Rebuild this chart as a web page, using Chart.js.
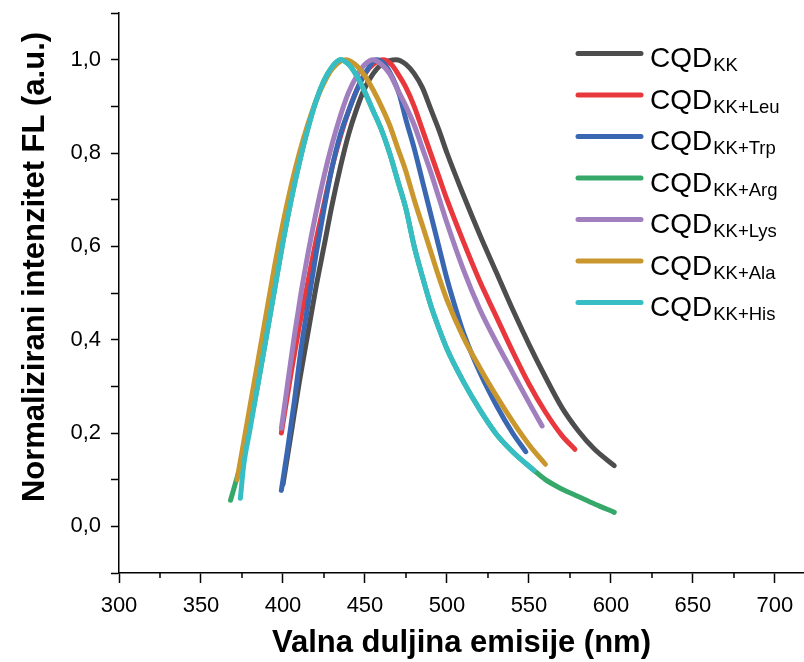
<!DOCTYPE html>
<html><head><meta charset="utf-8">
<script src="https://cdn.jsdelivr.net/npm/chart.js@4.4.0/dist/chart.umd.min.js"></script>
<style>html,body{margin:0;padding:0;background:#fff;}</style>
</head><body>
<canvas id="c" width="804" height="662"></canvas>
<script>
// ---- data ----
const seriesSubs = ['KK', 'KK+Leu', 'KK+Trp', 'KK+Arg', 'KK+Lys', 'KK+Ala', 'KK+His'];
const seriesColors = ['#4d4d4d', '#e8383d', '#3a67b2', '#35a86a', '#a17fbf', '#c9972d', '#36bec4'];

const kkX = [400,405,410,415,420,425,430,435,440,445,450,455,460,465,469,475,480,485,490,495,500,510,520,530,540,550,560,570,580,590,602];
const kkY = [0.09,0.2,0.31,0.41,0.51,0.6,0.69,0.77,0.84,0.895,0.94,0.97,0.99,0.998,1.0,0.99,0.97,0.94,0.895,0.85,0.8,0.71,0.625,0.545,0.465,0.39,0.32,0.255,0.205,0.165,0.13];

const leuX = [399,405,410,415,420,425,430,435,440,445,450,455,461,466,470,475,480,485,490,495,500,510,520,530,540,550,560,570,578];
const leuY = [0.2,0.33,0.43,0.52,0.61,0.69,0.77,0.835,0.89,0.935,0.97,0.99,1.0,0.99,0.97,0.94,0.9,0.85,0.8,0.75,0.7,0.61,0.525,0.45,0.375,0.305,0.245,0.195,0.165];

const trpX = [399,403,407,411,415,420,425,430,435,440,445,450,457,462,467,471,475,480,485,490,495,500,505,510,520,530,540,548];
const trpY = [0.077,0.17,0.27,0.38,0.47,0.58,0.68,0.77,0.84,0.89,0.935,0.97,1.0,0.99,0.96,0.925,0.871,0.81,0.74,0.67,0.6,0.53,0.47,0.415,0.33,0.26,0.2,0.16];

const argX = [368,370,372,375,378,380,385,390,395,400,405,410,415,420,425,430,435,440,445,450,455,460,465,470,475,480,485,490,495,500,510,520,530,540,553,560,570,580,590,602];
const argY = [0.056,0.08,0.105,0.14,0.19,0.22,0.31,0.41,0.51,0.61,0.7,0.78,0.85,0.91,0.955,0.985,1.0,0.99,0.965,0.93,0.89,0.85,0.8,0.74,0.68,0.6,0.535,0.475,0.425,0.38,0.31,0.25,0.198,0.16,0.12,0.1,0.08,0.064,0.048,0.03];

const lysX = [399,403,407,411,415,420,425,430,435,440,445,450,455,460,465,470,475,480,485,490,495,500,510,520,530,540,550,558];
const lysY = [0.21,0.31,0.41,0.5,0.58,0.67,0.75,0.82,0.88,0.93,0.965,0.99,1.0,0.99,0.97,0.935,0.9,0.86,0.81,0.76,0.705,0.65,0.55,0.465,0.395,0.33,0.265,0.215];

const alaX = [372,376,380,385,390,395,400,405,410,415,420,425,430,438,444,450,455,460,465,470,475,480,485,490,495,500,510,520,530,540,550,560];
const alaY = [0.1,0.18,0.26,0.36,0.46,0.56,0.65,0.73,0.8,0.86,0.91,0.95,0.98,1.0,0.99,0.965,0.935,0.9,0.86,0.81,0.76,0.7,0.645,0.59,0.535,0.485,0.405,0.34,0.28,0.225,0.175,0.133];

const hisX = [374,376,380,385,390,395,400,405,410,415,420,425,430,435,440,445,450,455,460,465,470,475,480,485,490,495,500,510,520,530,540,553];
const hisY = [0.06,0.13,0.21,0.31,0.41,0.51,0.61,0.7,0.78,0.85,0.91,0.955,0.985,1.0,0.99,0.965,0.93,0.89,0.85,0.8,0.74,0.68,0.6,0.535,0.475,0.425,0.38,0.31,0.25,0.198,0.16,0.12];

const xMajorTicks = [300,350,400,450,500,550,600,650,700];
const xMinorTicks = [325,375,425,475,525,575,625,675];
const yTickValues = [-0.1,0,0.1,0.2,0.3,0.4,0.5,0.6,0.7,0.8,0.9,1.0,1.1];
const yTickLabels = ['','0,0','','0,2','','0,4','','0,6','','0,8','','1,0',''];

const xTitle = 'Valna duljina emisije (nm)';
const yTitle = 'Normalizirani intenzitet FL (a.u.)';

// ---- build datasets ----
const xs = [kkX, leuX, trpX, argX, lysX, alaX, hisX];
const ys = [kkY, leuY, trpY, argY, lysY, alaY, hisY];
const drawOrder = [7, 6, 4, 5, 3, 2, 1]; // lower = drawn on top
const datasets = seriesSubs.map((s, i) => ({
  label: 'CQD ' + s,
  data: xs[i].map((x, j) => ({x: x, y: ys[i][j]})),
  borderColor: seriesColors[i],
  backgroundColor: seriesColors[i],
  borderWidth: 5,
  pointRadius: 0,
  cubicInterpolationMode: 'monotone',
  borderCapStyle: 'round',
  borderJoinStyle: 'round',
  fill: false,
  order: drawOrder[i]
}));

const FONT = "'Liberation Sans', Arial, Helvetica, sans-serif";

const extras = {
  id: 'extras',
  afterDraw(chart) {
    const ctx = chart.ctx;
    const xs_ = chart.scales.x;
    ctx.save();
    // minor x ticks
    ctx.strokeStyle = '#000';
    ctx.lineWidth = 1.5;
    xMinorTicks.forEach(v => {
      const px = xs_.getPixelForValue(v);
      ctx.beginPath();
      ctx.moveTo(px, xs_.top);
      ctx.lineTo(px, xs_.top + 5);
      ctx.stroke();
    });
    // y title
    ctx.save();
    ctx.translate(35, 267);
    ctx.rotate(-Math.PI / 2);
    ctx.font = 'bold 31px ' + FONT;
    ctx.fillStyle = '#000';
    ctx.textAlign = 'center';
    ctx.textBaseline = 'middle';
    ctx.fillText(yTitle, 0, 0);
    ctx.restore();
    // legend
    const y0 = 53.5, dy = 41.5;
    chart.data.datasets.forEach((ds, i) => {
      const ly = y0 + i * dy;
      ctx.strokeStyle = ds.borderColor;
      ctx.lineWidth = 5;
      ctx.lineCap = 'round';
      ctx.beginPath();
      ctx.moveTo(578, ly);
      ctx.lineTo(641, ly);
      ctx.stroke();
      ctx.fillStyle = '#000';
      ctx.textAlign = 'left';
      ctx.textBaseline = 'alphabetic';
      ctx.font = '28px ' + FONT;
      ctx.fillText('CQD', 650, ly + 13.5);
      const w = ctx.measureText('CQD').width;
      ctx.font = '18.5px ' + FONT;
      ctx.fillText(seriesSubs[i], 650 + w + 1, ly + 17.5);
    });
    ctx.restore();
  }
};

new Chart(document.getElementById('c'), {
  type: 'line',
  data: {datasets: datasets},
  options: {
    responsive: false,
    animation: false,
    devicePixelRatio: 1,
    layout: {padding: {top: 13, right: 0, left: 0, bottom: 0}},
    plugins: {legend: {display: false}, tooltip: {enabled: false}},
    scales: {
      x: {
        type: 'linear', min: 300, max: 717.7,
        afterBuildTicks: s => { s.ticks = xMajorTicks.map(v => ({value: v})); },
        afterFit: s => { s.height = 89; s.paddingLeft = 0; s.paddingRight = 0; },
        ticks: {autoSkip: false, maxRotation: 0, color: '#000', padding: 10,
                font: {family: FONT, size: 22}, callback: v => String(v)},
        grid: {drawOnChartArea: false, drawTicks: true, tickLength: 10, tickColor: '#000', tickWidth: 1.5},
        border: {display: true, color: '#000', width: 1.5},
        title: {display: true, text: xTitle, color: '#000', padding: {top: 0, bottom: 0},
                font: {family: FONT, size: 31, weight: 'bold'}}
      },
      y: {
        type: 'linear', min: -0.1, max: 1.1,
        afterBuildTicks: s => { s.ticks = yTickValues.map(v => ({value: v})); },
        afterFit: s => { s.width = 119; s.paddingTop = 0; s.paddingBottom = 0; },
        ticks: {autoSkip: false, color: '#000', padding: 10,
                font: {family: FONT, size: 22}, callback: (v, i) => yTickLabels[i]},
        grid: {drawOnChartArea: false, drawTicks: true, tickLength: 8, tickColor: '#000', tickWidth: 1.5},
        border: {display: true, color: '#000', width: 1.5}
      }
    }
  },
  plugins: [extras]
});
</script>
</body></html>
